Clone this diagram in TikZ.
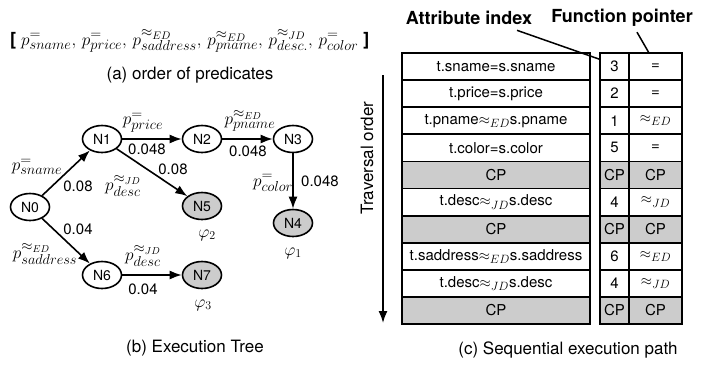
\documentclass[tikz,border=0pt]{standalone}
\usepackage{fontspec}
\setmainfont{TeX Gyre Heros}
\setsansfont{TeX Gyre Heros}
\usetikzlibrary{shapes.geometric,arrows.meta}
\DeclareMathSizes{15}{15}{12.5}{9}
\DeclareMathSizes{16}{16}{13.5}{10}
\DeclareMathSizes{18}{18}{15.5}{11}

\tikzset{
  tnode/.style={ellipse,draw,line width=1.6pt,minimum width=39pt,minimum height=27pt,inner sep=1pt,font=\fontsize{14}{16}\selectfont},
  leaf/.style={tnode,fill=gray!40},
  arr/.style={line width=1.6pt,-{Latex[length=12pt,width=9pt]}},
  plab/.style={inner sep=1pt,font=\fontsize{16}{18}\selectfont},
  wlab/.style={inner sep=1pt,font=\fontsize{15}{17}\selectfont},
  cell/.style={draw,line width=1.8pt,minimum height=27.1pt,inner sep=0pt,font=\fontsize{15}{17}\selectfont},
  wcell/.style={cell,minimum width=188pt},
  icell/.style={cell,minimum width=29pt},
  fcell/.style={cell,minimum width=53pt},
  cp/.style={fill=gray!40},
  hdr/.style={font=\fontsize{18}{20}\selectfont\bfseries},
  captxt/.style={font=\fontsize{17}{19}\selectfont}
}

\begin{document}
\begin{tikzpicture}[x=1pt,y=-1pt]
\useasboundingbox (0,0) rectangle (706,365);

% (a) order of predicates
\node[anchor=base west,inner sep=0pt,font=\fontsize{18}{20}\selectfont] (order) at (10,45)
  {\textbf{[}\ $p^{=}_{sname},\, p^{=}_{price},\, p^{\approx_{ED}}_{saddress},\, p^{\approx_{ED}}_{pname},\, p^{\approx_{JD}}_{desc.},\, p^{=}_{color}$\ \textbf{]}};
\node[captxt] (capa) at (190,75) {(a) order of predicates};

% (b) execution tree
\node[tnode] (N0) at (30,207) {N0};
\node[tnode] (N1) at (102,139) {N1};
\node[tnode] (N2) at (202,139) {N2};
\node[tnode] (N3) at (293,139) {N3};
\node[leaf] (N4) at (293,223) {N4};
\node[leaf] (N5) at (202,206) {N5};
\node[tnode] (N6) at (102,275) {N6};
\node[leaf] (N7) at (202,275) {N7};

\draw[arr] (N0) -- (N1);
\draw[arr] (N1) -- (N2);
\draw[arr] (N2) -- (N3);
\draw[arr] (N3) -- (N4);
\draw[arr] (N1) -- (N5);
\draw[arr] (N0) -- (N6);
\draw[arr] (N6) -- (N7);

\node[plab] (l01) at (37,167) {$p^{=}_{sname}$};
\node[wlab] (w01) at (78,186) {0.08};
\node[plab] (l12) at (143,123) {$p^{=}_{price}$};
\node[wlab] (w12) at (147,149) {0.048};
\node[plab] (l23) at (250,121) {$p^{\approx_{ED}}_{pname}$};
\node[wlab] (w23) at (248,151) {0.048};
\node[wlab] (w15) at (173,169) {0.08};
\node[plab] (l15) at (123,186) {$p^{\approx_{JD}}_{desc}$};
\node[plab] (l34) at (273,183) {$p^{=}_{color}$};
\node[wlab] (w34) at (320,181) {0.048};
\node[wlab] (w06) at (78,229) {0.04};
\node[plab] (l06) at (45,254) {$p^{\approx_{ED}}_{saddress}$};
\node[plab] (l67) at (143,256) {$p^{\approx_{JD}}_{desc}$};
\node[wlab] (w67) at (143,289) {0.04};

\node[captxt] (phi2) at (207,235) {$\varphi_2$};
\node[captxt] (phi1) at (293,253) {$\varphi_1$};
\node[captxt] (phi3) at (203,305) {$\varphi_3$};
\node[captxt] (capb) at (195,348) {(b) Execution Tree};

% (c) sequential execution path
\node[hdr] (attr) at (469,18) {Attribute index};
\node[hdr] (func) at (622,18) {Function pointer};

\node[wcell] (r1) at (496,66.55) {t.sname=s.sname};
\node[icell] (i1) at (614.5,66.55) {3};
\node[fcell] (f1) at (655.5,66.55) {=};
\node[wcell] (r2) at (496,93.65) {t.price=s.price};
\node[icell] (i2) at (614.5,93.65) {2};
\node[fcell] (f2) at (655.5,93.65) {=};
\node[wcell] (r3) at (496,120.75) {t.pname$\approx_{ED}$s.pname};
\node[icell] (i3) at (614.5,120.75) {1};
\node[fcell] (f3) at (655.5,120.75) {$\approx_{ED}$};
\node[wcell] (r4) at (496,147.85) {t.color=s.color};
\node[icell] (i4) at (614.5,147.85) {5};
\node[fcell] (f4) at (655.5,147.85) {=};
\node[wcell,cp] (r5) at (496,174.95) {CP};
\node[icell,cp] (i5) at (614.5,174.95) {CP};
\node[fcell,cp] (f5) at (655.5,174.95) {CP};
\node[wcell] (r6) at (496,202.05) {t.desc$\approx_{JD}$s.desc};
\node[icell] (i6) at (614.5,202.05) {4};
\node[fcell] (f6) at (655.5,202.05) {$\approx_{JD}$};
\node[wcell,cp] (r7) at (496,229.15) {CP};
\node[icell,cp] (i7) at (614.5,229.15) {CP};
\node[fcell,cp] (f7) at (655.5,229.15) {CP};
\node[wcell] (r8) at (496,256.25) {t.saddress$\approx_{ED}$s.saddress};
\node[icell] (i8) at (614.5,256.25) {6};
\node[fcell] (f8) at (655.5,256.25) {$\approx_{ED}$};
\node[wcell] (r9) at (496,283.35) {t.desc$\approx_{JD}$s.desc};
\node[icell] (i9) at (614.5,283.35) {4};
\node[fcell] (f9) at (655.5,283.35) {$\approx_{JD}$};
\node[wcell,cp] (r10) at (496,310.45) {CP};
\node[icell,cp] (i10) at (614.5,310.45) {CP};
\node[fcell,cp] (f10) at (655.5,310.45) {CP};

\draw[line width=1.5pt] ([xshift=48pt,yshift=-2pt]attr.south) -- ([yshift=-7pt]i1.north west);
\draw[line width=1.5pt] ([xshift=15pt,yshift=-2pt]func.south) -- ([xshift=-7pt]f1.north);

\coordinate (ttop) at (383,75);
\coordinate (tbot) at (383,323);
\draw[arr] (ttop) -- (tbot);
\node[captxt,rotate=90] (trav) at (367,158) {Traversal order};

\node[captxt] (capc) at (568,350) {(c) Sequential execution path};
\end{tikzpicture}
\end{document}
